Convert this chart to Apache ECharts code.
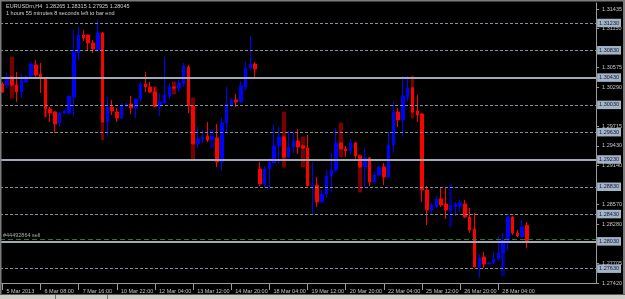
<!DOCTYPE html>
<html><head><meta charset="utf-8">
<script src="https://cdn.jsdelivr.net/npm/echarts@6/dist/echarts.min.js"></script>
<style>html,body{margin:0;padding:0;background:#000;overflow:hidden}#c{width:625px;height:299px}</style>
</head><body><div id="c"></div>
<script>
const symbolTitle = 'EURUSDm,H4  1.28265 1.28315 1.27925 1.28045';
const timerText = '1 hours 55 minutes 8 seconds left to bar end';
const tickLabels = ['5 Mar 2013','6 Mar 08:00','7 Mar 16:00','10 Mar 22:00','12 Mar 04:00','13 Mar 12:00','14 Mar 20:00','18 Mar 04:00','19 Mar 12:00','20 Mar 20:00','22 Mar 04:00','25 Mar 12:00','26 Mar 20:00','28 Mar 04:00'];
const barsPerTick = 8;
const slotCount = 125;

const opens = [1.30336,1.30322,1.30439,1.30322,1.30219,1.30366,1.30453,1.30615,1.30483,1.30410,
1.29970,1.29926,1.29765,1.29911,1.29911,1.30146,1.30790,1.31054,1.31054,1.30937,
1.30834,1.31083,1.29780,1.29999,1.29926,1.29838,1.30014,1.30043,1.29985,1.30117,
1.30336,1.30292,1.30219,1.30014,1.30058,1.30160,1.30292,1.30278,1.30336,1.30585,
1.30014,1.29457,1.29531,1.29575,1.29531,1.29545,1.29194,1.29765,1.30029,1.30102,
1.30073,1.30292,1.30571,1.30629,1.29091,1.28871,1.29091,1.29179,1.29428,1.29560,
1.29267,1.29413,1.29501,1.29428,1.29399,1.28842,1.28857,1.28608,1.28725,1.28989,
1.29076,1.29472,1.29384,1.29355,1.29472,1.29282,1.29120,1.29252,1.28901,1.29003,
1.29120,1.28974,1.29443,1.29926,1.29809,1.30146,1.30278,1.29941,1.29897,1.28783,
1.28490,1.28534,1.28652,1.28578,1.28490,1.28534,1.28549,1.28578,1.28387,1.28212,
1.27655,1.27801,1.27699,1.27714,1.27772,1.27860,1.28051,1.28387,1.28154,1.28095,
1.28265];
const closes = [1.30219,1.30439,1.30322,1.30219,1.30395,1.30439,1.30629,1.30468,1.30424,1.29970,
1.29911,1.29750,1.29911,1.29941,1.30160,1.30805,1.31054,1.31010,1.30937,1.30849,
1.31083,1.29780,1.29999,1.29941,1.29838,1.30029,1.30043,1.29985,1.30117,1.30336,
1.30292,1.30219,1.30014,1.30073,1.30175,1.30292,1.30278,1.30351,1.30600,1.30014,
1.29457,1.29531,1.29560,1.29516,1.29560,1.29194,1.29765,1.30043,1.30102,1.30073,
1.30307,1.30571,1.30629,1.30556,1.28871,1.29091,1.29194,1.29428,1.29560,1.29267,
1.29413,1.29501,1.29413,1.29399,1.28842,1.28857,1.28608,1.28725,1.28989,1.29076,
1.29472,1.29384,1.29355,1.29472,1.29282,1.29120,1.29252,1.28901,1.29003,1.29120,
1.28974,1.29443,1.29926,1.29809,1.30160,1.30278,1.29926,1.29882,1.28783,1.28490,
1.28564,1.28652,1.28564,1.28490,1.28549,1.28578,1.28593,1.28387,1.28198,1.27655,
1.27787,1.27699,1.27714,1.27772,1.27860,1.28051,1.28387,1.28154,1.28110,1.28242,
1.28045];
const lows = [1.30204,1.30278,1.30307,1.30073,1.30131,1.30351,1.30424,1.30439,1.30204,1.29853,
1.29780,1.29619,1.29707,1.29897,1.29882,1.29853,1.30688,1.30966,1.30834,1.30790,
1.30819,1.29780,1.29560,1.29882,1.29780,1.29824,1.30000,1.29897,1.29838,1.30073,
1.30219,1.30204,1.29999,1.29868,1.30043,1.30117,1.30263,1.30219,1.30292,1.29911,
1.29457,1.29399,1.29472,1.29487,1.29516,1.29120,1.29076,1.29619,1.29999,1.29999,
1.30058,1.30248,1.30541,1.30439,1.28842,1.28813,1.28798,1.29179,1.29164,1.29252,
1.29252,1.29326,1.29311,1.29384,1.28842,1.28417,1.28534,1.28593,1.28666,1.28754,
1.29047,1.29384,1.29267,1.29296,1.29238,1.29106,1.28813,1.28842,1.28871,1.28989,
1.28857,1.28959,1.29326,1.29707,1.29575,1.30087,1.29911,1.29780,1.28608,1.28271,
1.28417,1.28520,1.28534,1.28358,1.28490,1.28402,1.28461,1.28373,1.28154,1.27655,
1.27494,1.27641,1.27699,1.27699,1.27743,1.27640,1.27904,1.28125,1.28095,1.28095,
1.27925];
const highs = [1.30366,1.30497,1.30453,1.30512,1.30483,1.30468,1.30659,1.30688,1.30644,1.30410,
1.29999,1.29941,1.29926,1.29955,1.30160,1.31127,1.31171,1.31127,1.31054,1.30981,
1.31274,1.31098,1.30146,1.30102,1.29985,1.30058,1.30058,1.30160,1.30117,1.30366,
1.30512,1.30366,1.30292,1.30204,1.30732,1.30351,1.30307,1.30395,1.30644,1.30615,
1.30014,1.29707,1.29663,1.29780,1.29575,1.29750,1.29838,1.30292,1.30131,1.30190,
1.30380,1.30659,1.31039,1.30659,1.29194,1.29135,1.29252,1.29736,1.29707,1.29575,
1.29648,1.29619,1.29677,1.29443,1.29589,1.29194,1.28974,1.28783,1.29076,1.29326,
1.29692,1.29472,1.29428,1.29531,1.29487,1.29296,1.29399,1.29267,1.29047,1.29135,
1.29179,1.29633,1.30073,1.29985,1.30453,1.30453,1.30292,1.30175,1.29911,1.28842,
1.28593,1.28696,1.28827,1.28813,1.28564,1.28608,1.28637,1.28637,1.28520,1.28446,
1.27845,1.27875,1.27728,1.27875,1.28110,1.28154,1.28402,1.28402,1.28198,1.28344,
1.28315];

// dim shadow bars seen behind some candles
const ghostIndex = [2, 9, 21, 32, 36, 40, 44, 59, 63, 71, 75, 86, 94, 105];
const ghostHigh  = [1.30732,1.30410,1.31083,1.30292,1.30366,1.30131,1.29663,1.29926,1.29560,1.29765,1.29296,1.30453,1.28871,1.28051];
const ghostLow   = [1.30131,1.29853,1.29516,1.29999,1.30190,1.29223,1.29399,1.29120,1.29120,1.29267,1.28754,1.29838,1.28242,1.27524];
const ghostUp    = [false,false,false,false,false,false,true,false,false,false,false,false,true,true];

const priceLabels = [1.31435,1.31150,1.30575,1.30290,1.29715,1.29430,1.29140,1.28570,1.28280,1.27705,1.27420];
const solidLevels = [1.30430, 1.29230, 1.28030];
const dashedLevels = [1.31230, 1.30830, 1.30030, 1.29630, 1.28830, 1.28430, 1.27630];
const orderLevel = 1.28060;
const orderLabel = '#44492864 sell';
const yMin = 1.27420, yMax = 1.31523;

const FONT = 'Liberation Sans';
const categories = Array.from({length: slotCount}, (_, i) => String(i));
const mainData = opens.map((o, i) => [o, closes[i], lows[i], highs[i]]);
const ghostData = ghostIndex.map((idx, k) => ghostUp[k]
  ? [idx, ghostLow[k], ghostHigh[k], ghostLow[k], ghostHigh[k]]
  : [idx, ghostHigh[k], ghostLow[k], ghostLow[k], ghostHigh[k]]);

const boxLabel = {
  show: true, position: 'end', distance: 1,
  formatter: p => Number(p.value).toFixed(5),
  backgroundColor: '#a3b4c8', color: '#101830',
  fontFamily: FONT, fontSize: 5.5, padding: [1.5, 2, 1, 2], lineHeight: 6
};
const lineItems = [];
lineItems.push({yAxis: orderLevel, lineStyle: {type: [5, 3], color: '#1f7f1f', width: 1},
  label: {show: true, position: 'insideStartTop', distance: [3, 1], formatter: orderLabel,
    color: '#a8a8a8', fontFamily: FONT, fontSize: 5.5}});
dashedLevels.forEach(v => lineItems.push({yAxis: v,
  lineStyle: {type: [3, 2], color: '#8290a0', width: 1}, label: boxLabel}));
solidLevels.forEach(v => lineItems.push({yAxis: v,
  lineStyle: {type: 'solid', color: '#a0abb7', width: 2}, label: boxLabel}));

const chart = echarts.init(document.getElementById('c'), null, {renderer: 'canvas'});
chart.setOption({
  animation: false,
  backgroundColor: '#000000',
  grid: {left: 0, right: 28, top: 3, bottom: 16, containLabel: false},
  xAxis: {
    type: 'category', data: categories, boundaryGap: true,
    axisLine: {show: true, lineStyle: {color: '#9a9a9a', width: 1}},
    axisTick: {show: true, alignWithLabel: true, length: 7,
      interval: i => i % barsPerTick === 0 && i / barsPerTick < tickLabels.length,
      lineStyle: {color: '#9a9a9a'}},
    axisLabel: {
      interval: i => i % barsPerTick === 0 && i / barsPerTick < tickLabels.length,
      formatter: (v, i) => tickLabels[i / barsPerTick] || '',
      align: 'left', padding: [0, 0, 0, 4], margin: 5,
      color: '#c4c4c4', fontFamily: FONT, fontSize: 5.5
    },
    splitLine: {show: false}
  },
  yAxis: {
    type: 'value', position: 'right', min: yMin, max: yMax, scale: true,
    axisLine: {show: true, lineStyle: {color: '#9a9a9a', width: 1}},
    axisTick: {show: true, length: 3, customValues: priceLabels, lineStyle: {color: '#9a9a9a'}},
    axisLabel: {customValues: priceLabels, formatter: v => Number(v).toFixed(5),
      showMaxLabel: true, showMinLabel: true, hideOverlap: false,
      margin: 6, color: '#c4c4c4', fontFamily: FONT, fontSize: 5.5},
    splitLine: {show: false}
  },
  series: [
    {
      type: 'candlestick', name: 'shadow', z: 1, barWidth: 3,
      encode: {x: 0, y: [1, 2, 3, 4]},
      data: ghostData,
      itemStyle: {color: '#00007e', color0: '#7a0000', borderColor: '#00007e', borderColor0: '#7a0000', borderWidth: 1}
    },
    {
      type: 'candlestick', name: 'EURUSDm', z: 2, barWidth: 3,
      data: mainData,
      itemStyle: {color: '#0000ff', color0: '#ff0000', borderColor: '#0000ff', borderColor0: '#ff0000', borderWidth: 1},
      markLine: {silent: true, symbol: ['none', 'none'], animation: false, precision: 5, data: lineItems}
    }
  ],
  graphic: [
    {type: 'text', left: 6, top: 3, z: 100, style: {text: symbolTitle, fill: '#d0d0d0', font: '5.5px "' + FONT + '"'}},
    {type: 'text', left: 6, top: 10.5, z: 100, style: {text: timerText, fill: '#d0d0d0', font: '5.5px "' + FONT + '"'}},
    {type: 'rect', shape: {x: 0, y: 0, width: 625, height: 1.5}, style: {fill: '#7c7c7c'}, z: 100},
    {type: 'rect', shape: {x: 0, y: 0, width: 1.5, height: 294}, style: {fill: '#7c7c7c'}, z: 100},
    {type: 'rect', shape: {x: 623, y: 0, width: 2, height: 294}, style: {fill: '#7c7c7c'}, z: 100},
    {type: 'rect', shape: {x: 0, y: 294, width: 625, height: 1}, style: {fill: '#5a5a5a'}, z: 100},
    {type: 'rect', shape: {x: 0, y: 295, width: 625, height: 4}, style: {fill: '#d0cdc6'}, z: 100},
    {type: 'rect', shape: {x: 55, y: 295, width: 1, height: 4}, style: {fill: '#707070'}, z: 101},
    {type: 'rect', shape: {x: 107, y: 295, width: 1, height: 4}, style: {fill: '#707070'}, z: 101}
  ]
});
</script></body></html>
